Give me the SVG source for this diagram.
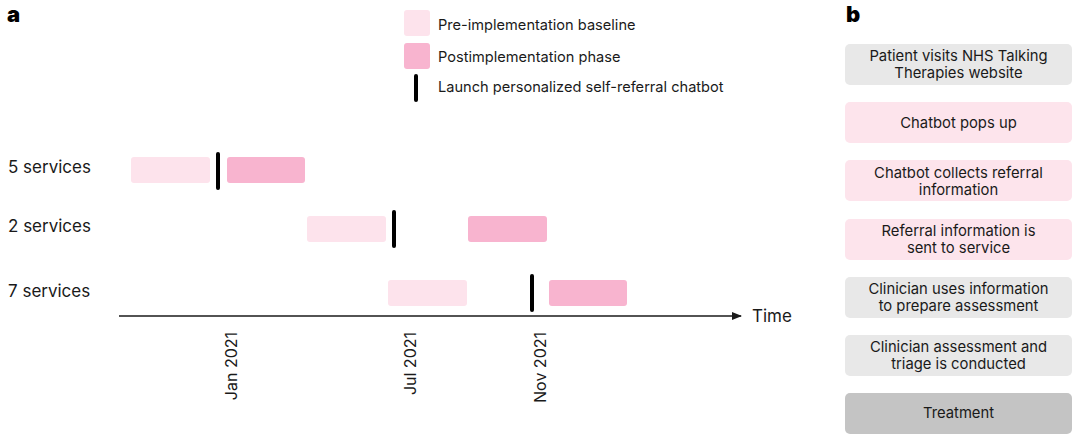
<svg xmlns="http://www.w3.org/2000/svg" width="1080" height="440" viewBox="0 0 1080 440">
<defs>
<style>
text{font-family:Inter,"Liberation Sans",sans-serif;fill:#1a1a1a}
.panel{font-size:22px;font-weight:900;fill:#000}
.leg{font-size:14.6px}
.row{font-size:17px}
.tick{font-size:16px}
.box text{font-size:14.8px;text-anchor:middle}
.pre{fill:#fde3ec}
.post{fill:#f8b4cf}
.launch{stroke:#000;stroke-width:4;stroke-linecap:round}
.gray{fill:#e8e8e8}
.pink{fill:#fde4ec}
.dark{fill:#c4c4c4}
</style>
<marker id="arr" markerWidth="10" markerHeight="8" refX="9" refY="4" orient="auto" markerUnits="userSpaceOnUse">
<path d="M0,0 L10,4 L0,8 Z" fill="#1a1a1a"/>
</marker>
</defs>
<rect width="1080" height="440" fill="#fff"/>
<text class="panel" x="7" y="22">a</text>
<text class="panel" x="846" y="22">b</text>
<g id="legend">
<rect class="pre" x="404" y="10" width="26" height="26" rx="3"/>
<text class="leg" x="438" y="30">Pre-implementation baseline</text>
<rect class="post" x="404" y="43" width="26" height="26" rx="3"/>
<text class="leg" x="438" y="62">Postimplementation phase</text>
<line class="launch" x1="416" y1="76" x2="416" y2="100"/>
<text class="leg" x="438" y="92">Launch personalized self-referral chatbot</text>
</g>
<g id="row5">
<text class="row" x="8" y="173">5 services</text>
<rect class="pre" x="131" y="157" width="79" height="26" rx="3"/>
<line class="launch" x1="218" y1="154" x2="218" y2="188"/>
<rect class="post" x="227" y="157" width="78" height="26" rx="3"/>
</g>
<g id="row2">
<text class="row" x="8" y="232">2 services</text>
<rect class="pre" x="307" y="216" width="79" height="26" rx="3"/>
<line class="launch" x1="394" y1="212" x2="394" y2="246"/>
<rect class="post" x="468" y="216" width="79" height="26" rx="3"/>
</g>
<g id="row7">
<text class="row" x="8" y="297">7 services</text>
<rect class="pre" x="388" y="280" width="79" height="26" rx="3"/>
<line class="launch" x1="532" y1="276" x2="532" y2="310"/>
<rect class="post" x="549" y="280" width="78" height="26" rx="3"/>
</g>
<g id="connectors">
<line x1="119" y1="316" x2="741" y2="316" stroke="#1a1a1a" stroke-width="1.5" marker-end="url(#arr)"/>
</g>
<g id="axis-labels">
<text class="row" x="752" y="322">Time</text>
<text class="tick" transform="translate(237,332) rotate(-90)" text-anchor="end">Jan 2021</text>
<text class="tick" transform="translate(416,332) rotate(-90)" text-anchor="end">Jul 2021</text>
<text class="tick" transform="translate(546,332) rotate(-90)" text-anchor="end">Nov 2021</text>
</g>
<g id="step1" class="box">
<rect class="gray" x="845" y="44" width="227" height="41" rx="5"/>
<text x="958.5" y="61">Patient visits NHS Talking</text>
<text x="958.5" y="78">Therapies website</text>
</g>
<g id="step2" class="box">
<rect class="pink" x="845" y="102" width="227" height="41" rx="5"/>
<text x="958.5" y="128">Chatbot pops up</text>
</g>
<g id="step3" class="box">
<rect class="pink" x="845" y="160" width="227" height="41" rx="5"/>
<text x="958.5" y="178">Chatbot collects referral</text>
<text x="958.5" y="195">information</text>
</g>
<g id="step4" class="box">
<rect class="pink" x="845" y="219" width="227" height="41" rx="5"/>
<text x="958.5" y="236">Referral information is</text>
<text x="958.5" y="253">sent to service</text>
</g>
<g id="step5" class="box">
<rect class="gray" x="845" y="277" width="227" height="41" rx="5"/>
<text x="958.5" y="294">Clinician uses information</text>
<text x="958.5" y="311">to prepare assessment</text>
</g>
<g id="step6" class="box">
<rect class="gray" x="845" y="335" width="227" height="41" rx="5"/>
<text x="958.5" y="352">Clinician assessment and</text>
<text x="958.5" y="369">triage is conducted</text>
</g>
<g id="step7" class="box">
<rect class="dark" x="845" y="393" width="227" height="41" rx="5"/>
<text x="958.5" y="418">Treatment</text>
</g>
</svg>
